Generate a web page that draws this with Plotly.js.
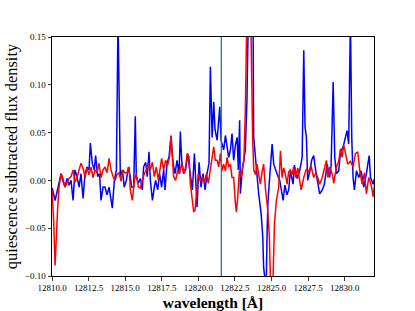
<!DOCTYPE html>
<html>
<head>
<meta charset="utf-8">
<script src="https://cdn.plot.ly/plotly-3.0.1.min.js"></script>
<style>html,body{margin:0;padding:0;background:#fff;}#chart{width:415px;height:311px;}</style>
</head>
<body>
<div id="chart"></div>
<script>
// Blue spectrum (wavelength in Å, quiescence subtracted flux density)
const blueWave = [12810.02,12810.21,12810.34,12810.48,12810.62,12810.75,12810.89,12811.03,12811.16,12811.30,12811.44,12811.57,12811.71,12811.85,12811.98,12812.12,12812.26,12812.39,12812.53,12812.62,12812.75,12812.89,12812.98,12813.12,12813.25,12813.35,12813.49,12813.62,12813.76,12813.90,12814.03,12814.12,12814.26,12814.40,12814.51,12814.67,12814.81,12814.94,12815.08,12815.22,12815.35,12815.44,12815.58,12815.69,12815.76,12815.90,12816.04,12816.17,12816.26,12816.40,12816.51,12816.63,12816.72,12816.86,12816.99,12817.08,12817.22,12817.35,12817.49,12817.63,12817.72,12817.86,12818.00,12818.13,12818.27,12818.41,12818.54,12818.68,12818.77,12818.86,12819.00,12819.13,12819.27,12819.36,12819.50,12819.59,12819.73,12819.82,12819.91,12820.05,12820.18,12820.32,12820.46,12820.59,12820.73,12820.82,12820.94,12821.05,12821.14,12821.28,12821.37,12821.46,12821.55,12821.62,12821.73,12821.85,12821.96,12822.07,12822.19,12822.30,12822.41,12822.53,12822.65,12822.73,12822.82,12822.87,12822.99,12823.10,12823.21,12823.32,12823.40,12823.55,12823.74,12823.78,12823.90,12824.01,12824.12,12824.29,12824.40,12824.46,12824.55,12824.63,12824.70,12824.75,12824.87,12825.04,12825.15,12825.26,12825.40,12825.56,12825.67,12825.79,12825.91,12826.05,12826.17,12826.29,12826.47,12826.56,12826.75,12826.92,12827.09,12827.20,12827.29,12827.38,12827.47,12827.61,12827.74,12827.88,12828.02,12828.15,12828.29,12828.46,12828.61,12828.80,12828.97,12829.07,12829.21,12829.32,12829.43,12829.59,12829.71,12829.89,12830.05,12830.16,12830.27,12830.39,12830.48,12830.57,12830.66,12830.80,12830.96,12831.12,12831.30,12831.48,12831.67,12831.76,12831.94,12832.03];
const blueFlux = [-0.008,-0.021,-0.012,-0.003,0.007,-0.001,-0.007,0.002,-0.005,0.000,-0.021,0.011,0.004,-0.007,0.007,-0.019,0.007,0.014,0.011,0.039,0.018,0.011,0.026,0.004,0.007,-0.021,-0.007,-0.007,-0.015,-0.007,-0.021,-0.029,0.000,0.011,0.170,0.004,0.011,-0.007,0.000,0.014,0.004,-0.007,-0.007,0.067,0.004,-0.003,0.002,-0.010,0.014,0.019,0.004,0.030,0.000,-0.021,-0.007,0.000,-0.010,0.007,-0.007,0.011,-0.010,0.018,0.025,0.047,0.018,0.007,0.021,0.007,0.051,0.021,0.007,0.011,0.028,0.018,0.004,-0.010,0.028,0.000,-0.028,0.019,-0.007,0.007,-0.010,0.007,0.018,0.119,0.045,0.082,0.053,0.042,0.058,0.077,0.042,0.038,0.032,0.047,0.032,0.024,0.032,0.049,0.021,0.037,0.045,0.011,0.063,-0.014,0.010,0.024,0.032,0.084,0.160,0.170,0.160,0.045,0.021,0.003,-0.014,-0.035,-0.059,-0.091,-0.115,-0.115,-0.052,-0.024,0.003,0.038,0.017,0.011,0.006,0.000,-0.010,-0.021,-0.005,-0.015,-0.010,0.010,-0.004,0.016,0.002,0.010,0.024,0.136,0.056,0.045,0.000,0.009,0.021,0.026,0.010,0.000,-0.014,-0.010,-0.004,0.017,0.003,0.016,0.103,0.024,0.007,0.010,0.030,0.035,0.045,0.052,0.038,0.170,0.045,0.003,-0.010,0.010,0.003,0.010,-0.007,0.007,0.026,0.003,-0.004,0.002];

// Red spectrum
const redWave = [12810.00,12810.11,12810.21,12810.29,12810.38,12810.48,12810.62,12810.75,12810.89,12811.03,12811.16,12811.30,12811.44,12811.57,12811.71,12811.85,12811.98,12812.12,12812.26,12812.39,12812.53,12812.67,12812.80,12812.94,12813.08,12813.21,12813.35,12813.49,12813.62,12813.76,12813.90,12814.03,12814.17,12814.31,12814.44,12814.58,12814.72,12814.85,12814.99,12815.13,12815.26,12815.35,12815.49,12815.63,12815.76,12815.90,12816.04,12816.17,12816.31,12816.45,12816.58,12816.72,12816.86,12816.99,12817.13,12817.27,12817.40,12817.49,12817.63,12817.76,12817.90,12818.04,12818.13,12818.22,12818.31,12818.45,12818.59,12818.72,12818.86,12819.00,12819.13,12819.23,12819.36,12819.45,12819.59,12819.68,12819.77,12819.86,12820.00,12820.14,12820.27,12820.41,12820.55,12820.68,12820.82,12820.96,12821.05,12821.16,12821.28,12821.39,12821.50,12821.62,12821.73,12821.85,12821.96,12822.07,12822.19,12822.30,12822.41,12822.53,12822.60,12822.69,12822.80,12822.92,12823.03,12823.11,12823.21,12823.30,12823.44,12823.59,12823.71,12823.78,12823.90,12824.01,12824.12,12824.24,12824.35,12824.46,12824.58,12824.74,12824.85,12824.94,12825.08,12825.20,12825.33,12825.49,12825.61,12825.72,12825.83,12825.95,12826.06,12826.17,12826.29,12826.40,12826.51,12826.65,12826.79,12826.92,12827.02,12827.20,12827.38,12827.54,12827.70,12827.88,12828.02,12828.15,12828.29,12828.46,12828.61,12828.75,12828.84,12828.97,12829.14,12829.25,12829.43,12829.59,12829.71,12829.82,12829.93,12830.05,12830.21,12830.39,12830.57,12830.73,12830.89,12831.03,12831.19,12831.35,12831.48,12831.64,12831.80,12831.94,12832.03];
const redFlux = [-0.010,-0.041,-0.089,-0.059,-0.031,-0.007,0.007,0.002,-0.007,-0.002,0.002,0.004,0.011,-0.002,0.003,0.011,0.018,0.013,0.003,0.013,0.006,0.014,0.003,0.011,0.008,0.018,0.003,0.011,0.014,0.008,0.023,0.011,0.004,0.000,0.006,0.008,-0.001,0.011,0.008,0.008,0.014,-0.010,-0.021,0.000,0.007,-0.007,-0.008,0.000,0.007,0.011,0.018,0.011,0.019,0.004,0.014,0.000,0.011,0.023,0.011,0.021,0.016,0.025,0.046,0.028,0.004,0.000,0.011,0.007,0.018,0.007,0.014,0.028,0.025,-0.003,-0.021,-0.033,-0.031,-0.014,0.007,-0.001,0.004,-0.003,0.007,-0.003,0.011,0.028,0.035,0.021,0.021,0.014,0.028,0.010,0.017,0.010,0.024,0.014,0.017,0.003,0.003,-0.024,-0.033,-0.017,0.010,0.003,0.012,0.021,0.073,0.160,0.170,0.160,0.045,0.011,0.006,0.017,0.006,-0.004,0.009,0.017,-0.008,-0.031,-0.059,-0.115,-0.115,-0.045,-0.021,-0.007,0.031,0.003,0.013,0.006,-0.004,0.009,0.011,0.006,0.014,0.003,0.013,0.000,-0.010,0.003,0.012,0.009,0.015,0.003,0.008,0.003,-0.004,0.003,0.014,0.021,0.003,0.014,0.007,-0.003,0.014,0.020,0.033,0.024,0.037,0.028,0.017,0.020,0.014,0.028,0.030,0.010,-0.004,0.008,-0.014,0.003,-0.004,-0.017,-0.005];

// Reference line wavelength
const lineWave = 12821.57;

const xRange = [12810.0, 12832.0];
const yRange = [-0.10, 0.15];
const xTicks = [12810.0, 12812.5, 12815.0, 12817.5, 12820.0, 12822.5, 12825.0, 12827.5, 12830.0];
const yTicks = [-0.10, -0.05, 0.00, 0.05, 0.10, 0.15];

const serif = "Liberation Serif, DejaVu Serif, serif";

const traces = [
  {x: blueWave, y: blueFlux, type: 'scatter', mode: 'lines', line: {color: '#0000ff', width: 1.5}, hoverinfo: 'skip'},
  {x: redWave, y: redFlux, type: 'scatter', mode: 'lines', line: {color: '#ff0000', width: 1.5}, hoverinfo: 'skip'}
];

const layout = {
  width: 415, height: 311,
  margin: {l: 52, r: 41, t: 37, b: 35},
  paper_bgcolor: '#fff', plot_bgcolor: '#fff',
  showlegend: false,
  font: {family: serif, size: 9, color: '#000'},
  xaxis: {
    range: xRange, tickvals: xTicks, tickformat: '.1f',
    ticks: 'outside', ticklen: 3.5, tickwidth: 0.8, tickcolor: '#000',
    showline: true, mirror: true, linecolor: '#000', linewidth: 1,
    showgrid: false, zeroline: false,
    tickfont: {family: serif, size: 9, color: '#000'},
    title: {text: '<b>wavelength [Å]</b>', font: {family: serif, size: 15.5, color: '#000'}, standoff: 4}
  },
  yaxis: {
    range: yRange, tickvals: yTicks, tickformat: '.2f',
    ticks: 'outside', ticklen: 3.5, tickwidth: 0.8, tickcolor: '#000',
    showline: true, mirror: true, linecolor: '#000', linewidth: 1,
    showgrid: false, zeroline: false,
    tickfont: {family: serif, size: 9, color: '#000'},
    title: {text: 'quiescence subtracted flux density', font: {family: serif, size: 16.4, color: '#000'}, standoff: 3}
  },
  shapes: [{
    type: 'line', xref: 'x', yref: 'paper', x0: lineWave, x1: lineWave, y0: 0, y1: 1,
    line: {color: '#1f77b4', width: 1.3}
  }]
};

Plotly.newPlot('chart', traces, layout, {staticPlot: true, displayModeBar: false});
</script>
</body>
</html>
